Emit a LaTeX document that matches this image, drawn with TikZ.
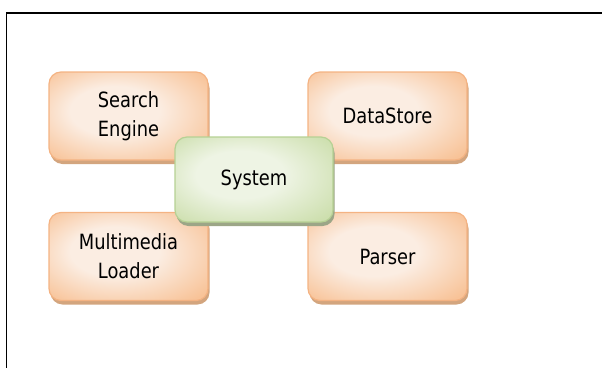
\documentclass[tikz,border=0pt]{standalone}
\usepackage{fontspec}
\setmainfont{DejaVu Sans}[FakeStretch=0.85]
\usetikzlibrary{shadows}
\definecolor{orbrd}{HTML}{F4B383}
\definecolor{orout}{HTML}{F8C398}
\definecolor{orin}{HTML}{FBEDE2}
\definecolor{orsh}{HTML}{D3A57E}
\definecolor{grbrd}{HTML}{B6D194}
\definecolor{grout}{HTML}{CDDFAE}
\definecolor{grin}{HTML}{EEF4E4}
\definecolor{grsh}{HTML}{9CA687}
\pgfdeclareradialshading{softor}{\pgfpoint{-6bp}{4bp}}{color(0bp)=(orin); color(14bp)=(orin); color(34bp)=(orout); color(50bp)=(orout)}
\pgfdeclareradialshading{softgr}{\pgfpoint{-6bp}{4bp}}{color(0bp)=(grin); color(14bp)=(grin); color(34bp)=(grout); color(50bp)=(grout)}
\tikzset{
  box/.style={rectangle, rounded corners=12pt, line width=1.2pt, inner sep=0pt,
    align=center, font=\fontsize{21}{29}\selectfont},
  orbox/.style={box, draw=orbrd, shading=softor,
    minimum width=159pt, minimum height=88pt,
    drop shadow={shadow xshift=1.5pt, shadow yshift=-4pt, fill=orsh, opacity=1}},
  grbox/.style={box, draw=grbrd, shading=softgr,
    minimum width=158pt, minimum height=85pt,
    drop shadow={shadow xshift=1.5pt, shadow yshift=-4pt, fill=grsh, opacity=1}},
  frame/.style={draw=black, line width=1.5pt}
}
\begin{document}
\begin{tikzpicture}[x=1pt, y=-1pt]
\useasboundingbox (0,0) rectangle (602,367);
\begin{scope}
\clip (0,0) rectangle (602,367);
\draw[frame] (6.5,13) rectangle (640,400);
\end{scope}
\node[orbox] (search) at (128.5,116) {Search\\Engine};
\node[orbox] (datastore) at (387.5,116) {DataStore};
\node[orbox] (loader) at (128.5,256.5) {Multimedia\\Loader};
\node[orbox] (parser) at (387.5,256.5) {\raisebox{-3pt}{Parser}};
\node[grbox] (system) at (254,179.5) {\raisebox{-3pt}{System}};
\end{tikzpicture}
\end{document}
